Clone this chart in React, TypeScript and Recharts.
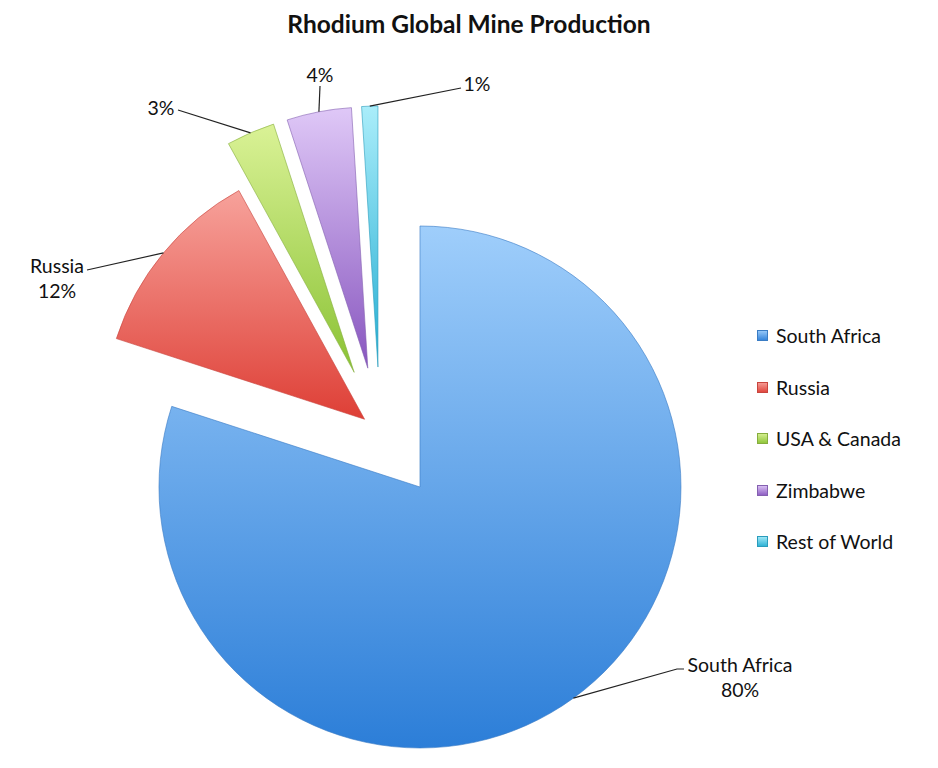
import React from "react";
import { PieChart, Pie, Cell, Sector, Legend } from "recharts";

// values
const REGIONS = ["South Africa", "Russia", "USA & Canada", "Zimbabwe", "Rest of World"];
const SHARES = [80, 12, 3, 4, 1];

const data = REGIONS.map((name, i) => ({ name, value: SHARES[i] }));

// top / bottom gradient stops + edge colour per slice
const COLORS = [
  { top: "#9fcefb", bottom: "#2c7ed8", edge: "#3a7cc4" },
  { top: "#f7a29b", bottom: "#de3f36", edge: "#c8453e" },
  { top: "#daf296", bottom: "#8ac234", edge: "#86ad3e" },
  { top: "#dfc8f7", bottom: "#8856bf", edge: "#8460b0" },
  { top: "#aaedfa", bottom: "#24add2", edge: "#2a9cbc" },
];

// how far each slice is pulled out from the centre (px)
const EXPLODE = [68, 20, 65, 65, 65];

// where each label sits and where its leader line ends
const LABEL_LAYOUT = [
  { end: [684, 669], elbow: [677, 669], text: [740, 665], twoLines: true },
  { end: [87, 270], elbow: null, text: [57, 266], twoLines: true },
  { end: [178, 110], elbow: null, text: [161, 108], twoLines: false },
  { end: [320, 86], elbow: null, text: [320, 75], twoLines: false },
  { end: [461, 88], elbow: null, text: [477, 84], twoLines: false },
];

const RAD = Math.PI / 180;
const FONT = "Lato, 'Open Sans', sans-serif";
const FS = 19.5;

const idxOf = (p: any) => {
  const name = p.name ?? p.payload?.name;
  const i = REGIONS.indexOf(name);
  return i >= 0 ? i : p.index ?? 0;
};

const shift = (mid: number, d: number) => ({
  dx: d * Math.cos(-mid * RAD),
  dy: d * Math.sin(-mid * RAD),
});

const ExplodedSlice = (props: any) => {
  const i = idxOf(props);
  const { dx, dy } = shift(props.midAngle, EXPLODE[i]);
  return (
    <Sector
      cx={props.cx + dx}
      cy={props.cy + dy}
      innerRadius={props.innerRadius}
      outerRadius={props.outerRadius}
      startAngle={props.startAngle}
      endAngle={props.endAngle}
      fill={`url(#grad${i})`}
      stroke={COLORS[i].edge}
      strokeWidth={1}
      strokeOpacity={0.6}
    />
  );
};

const renderLabel = (props: any) => {
  const i = idxOf(props);
  const { dx, dy } = shift(props.midAngle, EXPLODE[i]);
  const cx = props.cx + dx;
  const cy = props.cy + dy;
  const sx = cx + props.outerRadius * Math.cos(-props.midAngle * RAD);
  const sy = cy + props.outerRadius * Math.sin(-props.midAngle * RAD);
  const lay = LABEL_LAYOUT[i];
  const pts = [[sx, sy], ...(lay.elbow ? [lay.elbow] : []), lay.end]
    .map((p) => p.join(","))
    .join(" ");
  const pct = `${SHARES[i]}%`;
  return (
    <g key={`lbl-${i}`}>
      <polyline points={pts} fill="none" stroke="#222" strokeWidth={1.2} />
      {lay.twoLines ? (
        <text x={lay.text[0]} y={lay.text[1]} textAnchor="middle" fontFamily={FONT} fontSize={FS} fill="#111">
          <tspan x={lay.text[0]} dy="0.35em">{REGIONS[i]}</tspan>
          <tspan x={lay.text[0]} dy="1.28em">{pct}</tspan>
        </text>
      ) : (
        <text x={lay.text[0]} y={lay.text[1]} dy="0.35em" textAnchor="middle" fontFamily={FONT} fontSize={FS} fill="#111">
          {pct}
        </text>
      )}
    </g>
  );
};

const LegendContent = () => (
  <div style={{ fontFamily: FONT, fontSize: FS, color: "#111" }}>
    {REGIONS.map((name, i) => (
      <div key={name} style={{ display: "flex", alignItems: "center", height: 51.5 }}>
        <span
          style={{
            display: "inline-block",
            width: 11,
            height: 11,
            marginRight: 8,
            background: `linear-gradient(${COLORS[i].top}, ${COLORS[i].bottom})`,
            boxShadow: `inset 0 0 0 1px ${COLORS[i].edge}`,
          }}
        />
        {name}
      </div>
    ))}
  </div>
);

export default function App() {
  return (
    <div style={{ position: "absolute", left: 0, top: 0, width: 938, height: 768, background: "#fff" }}>
      <div
        style={{
          position: "absolute",
          top: 9,
          width: 938,
          textAlign: "center",
          fontFamily: FONT,
          fontWeight: 700,
          fontSize: 24.5,
          color: "#111",
        }}
      >
        Rhodium Global Mine Production
      </div>
      <PieChart width={938} height={768} margin={{ top: 0, right: 0, bottom: 0, left: 0 }}>
        <defs>
          {COLORS.map((c, i) => (
            <linearGradient key={i} id={`grad${i}`} x1="0" y1="0" x2="0" y2="1">
              <stop offset="0%" stopColor={c.top} />
              <stop offset="100%" stopColor={c.bottom} />
            </linearGradient>
          ))}
        </defs>
        <Pie
          data={data}
          dataKey="value"
          nameKey="name"
          cx={380}
          cy={432}
          outerRadius={261}
          startAngle={90}
          endAngle={-270}
          shape={ExplodedSlice}
          label={renderLabel}
          labelLine={false}
          isAnimationActive={false}
        >
          {data.map((d, i) => (
            <Cell key={d.name} fill={`url(#grad${i})`} />
          ))}
        </Pie>
        <Legend
          layout="vertical"
          align="right"
          verticalAlign="middle"
          content={<LegendContent />}
          wrapperStyle={{ left: 757, top: 310, width: 180 }}
        />
      </PieChart>
    </div>
  );
}
